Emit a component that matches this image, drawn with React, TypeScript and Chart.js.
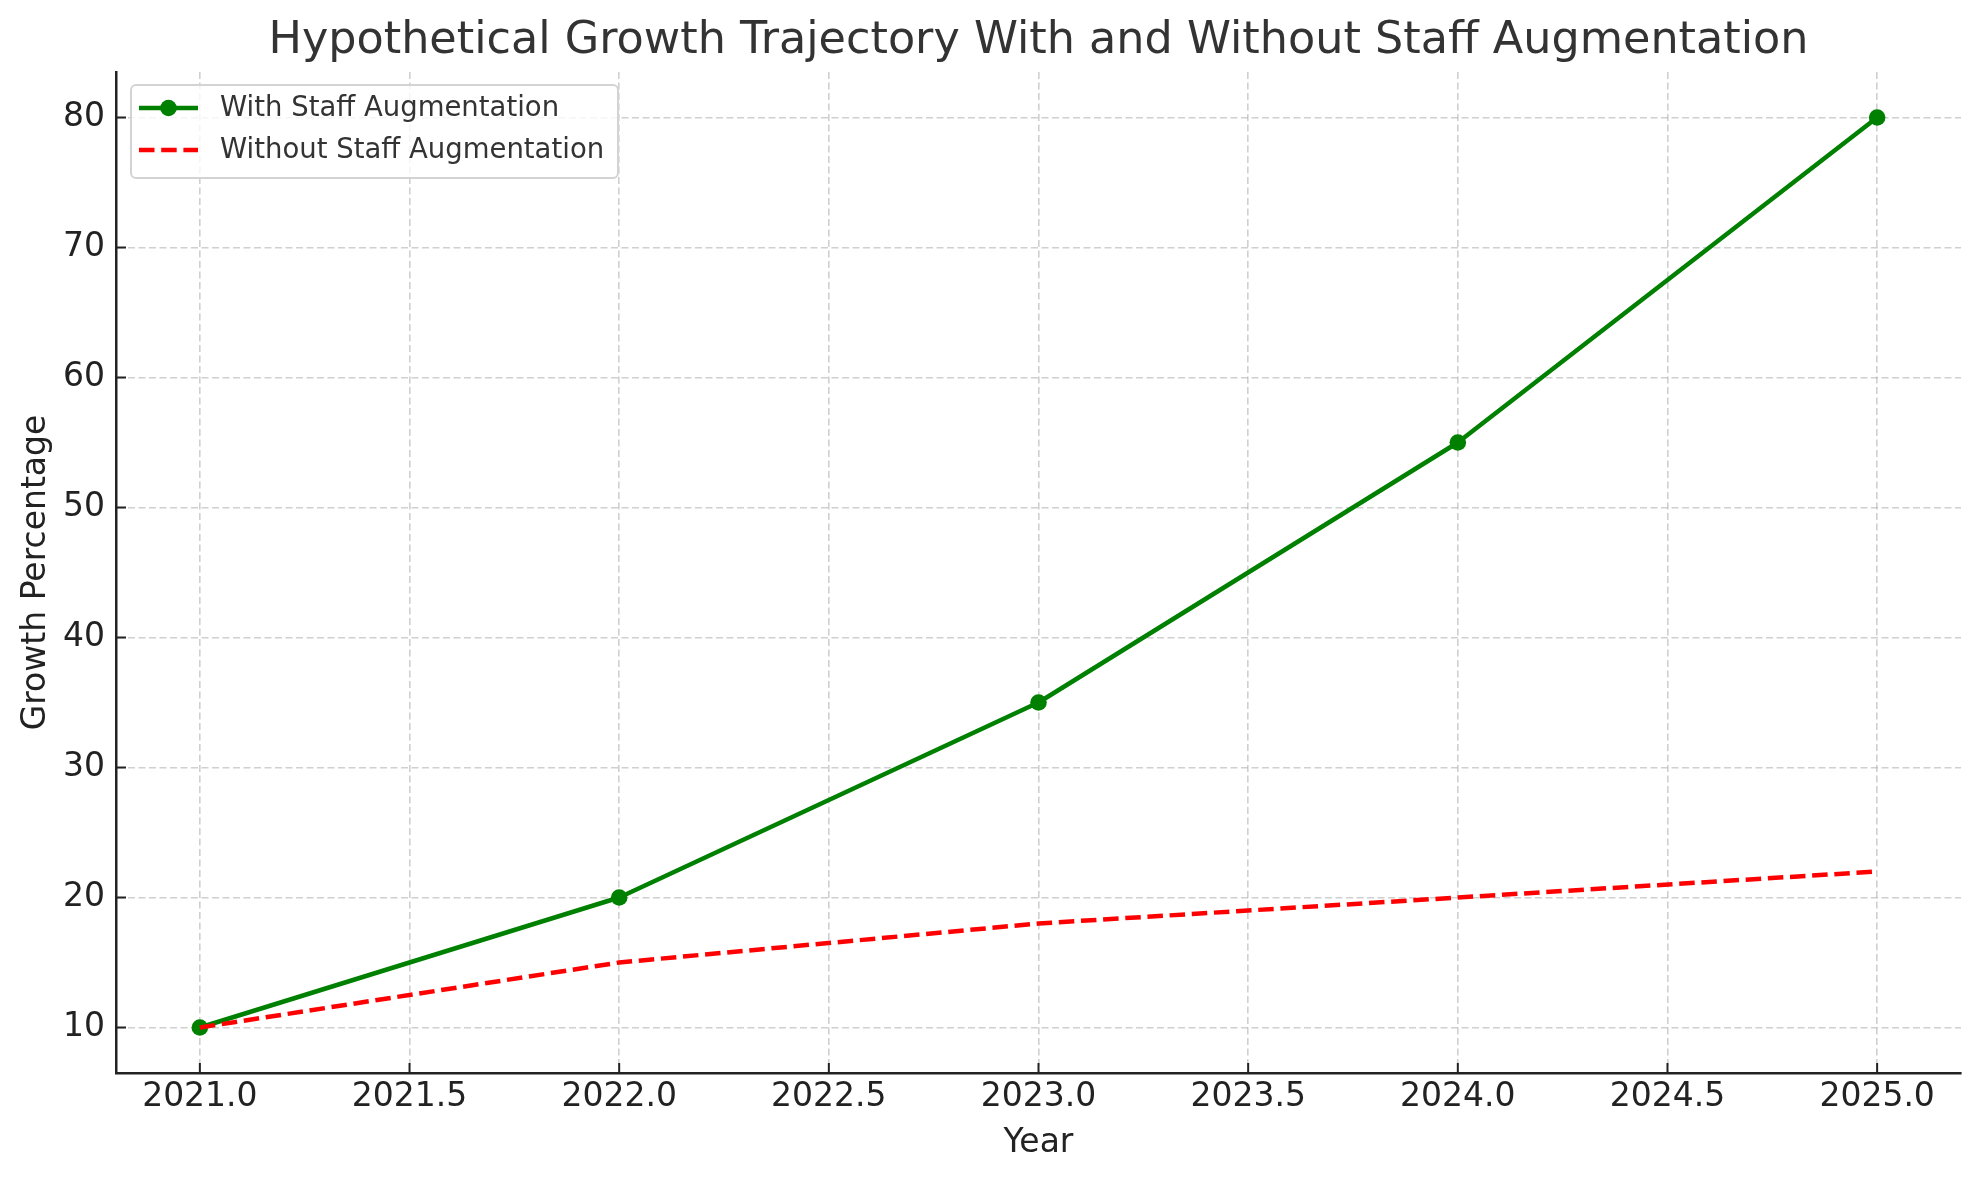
import { useEffect, useRef } from "react";
import { Chart, registerables } from "chart.js";

Chart.register(...registerables);

const years = [2021, 2022, 2023, 2024, 2025];
const withStaff = [10, 20, 35, 55, 80];
const withoutStaff = [10, 15, 18, 20, 22];
const xTicks = [2021, 2021.5, 2022, 2022.5, 2023, 2023.5, 2024, 2024.5, 2025];
const yTicks = [10, 20, 30, 40, 50, 60, 70, 80];

const FONT = "'DejaVu Sans', sans-serif";
const GREEN = "#008000";
const RED = "#ff0000";
const INK = "#222222";
const LINE_W = 4.5;
const DASH = [15.5, 6.7];

const decorPlugin = {
  id: "decor",
  afterDraw(chart) {
    const { ctx, chartArea } = chart;
    const xs = chart.scales.x;
    const ys = chart.scales.y;
    const cx = (chartArea.left + chartArea.right) / 2;
    const cy = (chartArea.top + chartArea.bottom) / 2;

    ctx.save();
    // inward tick marks
    ctx.strokeStyle = INK;
    ctx.lineWidth = 2;
    xs.ticks.forEach((t) => {
      const px = xs.getPixelForValue(t.value);
      ctx.beginPath();
      ctx.moveTo(px, chartArea.bottom);
      ctx.lineTo(px, chartArea.bottom - 10);
      ctx.stroke();
    });
    ys.ticks.forEach((t) => {
      const py = ys.getPixelForValue(t.value);
      ctx.beginPath();
      ctx.moveTo(chartArea.left, py);
      ctx.lineTo(chartArea.left + 10, py);
      ctx.stroke();
    });

    // title
    ctx.fillStyle = "#333333";
    ctx.font = `44.5px ${FONT}`;
    ctx.textAlign = "center";
    ctx.textBaseline = "alphabetic";
    ctx.fillText("Hypothetical Growth Trajectory With and Without Staff Augmentation", cx, 53);

    // axis labels
    ctx.fillStyle = INK;
    ctx.font = `33px ${FONT}`;
    ctx.fillText("Year", cx, 1152);
    ctx.save();
    ctx.translate(45, cy);
    ctx.rotate(-Math.PI / 2);
    ctx.fillText("Growth Percentage", 0, 0);
    ctx.restore();

    // legend
    const bx = 131, by = 85, bw = 487, bh = 93;
    ctx.beginPath();
    ctx.roundRect(bx, by, bw, bh, 5);
    ctx.fillStyle = "rgba(255,255,255,0.8)";
    ctx.fill();
    ctx.strokeStyle = "#d3d3d3";
    ctx.lineWidth = 2;
    ctx.stroke();

    const rows = [108, 150];
    ctx.lineWidth = LINE_W;
    ctx.strokeStyle = GREEN;
    ctx.beginPath();
    ctx.moveTo(139, rows[0]);
    ctx.lineTo(198, rows[0]);
    ctx.stroke();
    ctx.fillStyle = GREEN;
    ctx.beginPath();
    ctx.arc(168.5, rows[0], 8.3, 0, Math.PI * 2);
    ctx.fill();

    ctx.strokeStyle = RED;
    ctx.setLineDash(DASH);
    ctx.beginPath();
    ctx.moveTo(139, rows[1]);
    ctx.lineTo(198, rows[1]);
    ctx.stroke();
    ctx.setLineDash([]);

    ctx.fillStyle = "#333333";
    ctx.font = `27.5px ${FONT}`;
    ctx.textAlign = "left";
    ctx.textBaseline = "middle";
    ctx.fillText("With Staff Augmentation", 220, rows[0] + 1);
    ctx.fillText("Without Staff Augmentation", 220, rows[1] + 1);
    ctx.restore();
  },
};

export default function App() {
  const chartRef = useRef(null);
  const chartInstance = useRef(null);

  useEffect(() => {
    document.body.style.margin = "0";
    if (chartInstance.current) {
      chartInstance.current.destroy();
    }

    if (chartRef.current) {
      chartInstance.current = new Chart(chartRef.current, {
        type: "line",
        data: {
          datasets: [
            {
              label: "With Staff Augmentation",
              data: years.map((y, i) => ({ x: y, y: withStaff[i] })),
              borderColor: GREEN,
              backgroundColor: GREEN,
              borderWidth: LINE_W,
              borderJoinStyle: "round",
              pointRadius: 8.3,
              pointBorderWidth: 0,
              pointBackgroundColor: GREEN,
              tension: 0,
              order: 1,
            },
            {
              label: "Without Staff Augmentation",
              data: years.map((y, i) => ({ x: y, y: withoutStaff[i] })),
              borderColor: RED,
              backgroundColor: RED,
              borderWidth: LINE_W,
              borderDash: DASH,
              pointRadius: 0,
              tension: 0,
              order: 0,
            },
          ],
        },
        options: {
          responsive: false,
          animation: false,
          devicePixelRatio: 1,
          layout: { padding: { left: 0, top: 72, right: 19, bottom: 0 } },
          plugins: {
            legend: { display: false },
            title: { display: false },
            tooltip: { enabled: false },
          },
          scales: {
            x: {
              type: "linear",
              min: 2020.8,
              max: 2025.2,
              afterBuildTicks: (scale) => {
                scale.ticks = xTicks.map((v) => ({ value: v }));
              },
              afterFit: (scale) => {
                scale.height = 107;
              },
              grid: { color: "rgba(176,176,176,0.6)", lineWidth: 1.6, drawTicks: false },
              border: { display: true, color: INK, width: 2.5, dash: [7, 3.5] },
              ticks: {
                autoSkip: false,
                maxRotation: 0,
                padding: 5,
                color: INK,
                font: { family: FONT, size: 33 },
                callback: (v) => Number(v).toFixed(1),
              },
            },
            y: {
              type: "linear",
              min: 6.5,
              max: 83.5,
              afterBuildTicks: (scale) => {
                scale.ticks = yTicks.map((v) => ({ value: v }));
              },
              afterFit: (scale) => {
                scale.width = 116;
              },
              grid: { color: "rgba(176,176,176,0.6)", lineWidth: 1.6, drawTicks: false },
              border: { display: true, color: INK, width: 2.5, dash: [7, 3.5] },
              ticks: {
                padding: 11,
                color: INK,
                font: { family: FONT, size: 33 },
                callback: (v) => String(v),
              },
            },
          },
        },
        plugins: [decorPlugin],
      });
    }

    return () => {
      if (chartInstance.current) {
        chartInstance.current.destroy();
        chartInstance.current = null;
      }
    };
  }, []);

  return (
    <div style={{ width: "1980px", height: "1180px", background: "#ffffff" }}>
      <canvas ref={chartRef} width={1980} height={1180} style={{ width: "1980px", height: "1180px" }} />
    </div>
  );
}
